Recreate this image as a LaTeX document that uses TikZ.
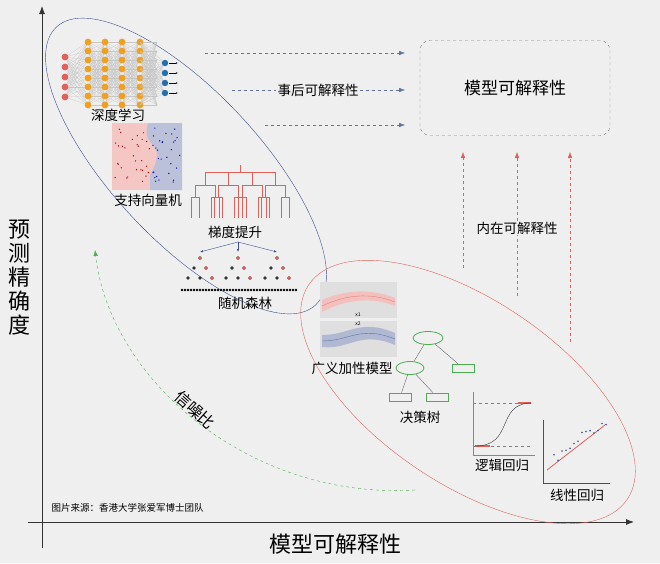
\documentclass[tikz,border=0pt]{standalone}
\usepackage{fontspec}
\setmainfont{Noto Sans CJK SC}
\usetikzlibrary{arrows.meta,positioning,shapes.geometric}
\definecolor{bg}{HTML}{EFEFEF}
\definecolor{nblue}{HTML}{3B4F8F}
\definecolor{nred}{HTML}{E0605A}
\definecolor{ngreen}{HTML}{4CB050}
\definecolor{norange}{HTML}{F0A020}
\definecolor{ndot}{HTML}{2070B0}
\tikzset{
  lab/.style={font=\fontsize{13.5}{14}\selectfont, inner sep=1pt},
  bigl/.style={font=\fontsize{22}{24}\selectfont},
  dsh/.style={dashed, -{Latex[length=6pt]}},
}
\begin{document}
\begin{tikzpicture}[x=1pt,y=-1pt]
    \def\bdraw{nblue}
    \def\rdraw{nred}
    \fill[bg] (0,0) rectangle (660,563);
    \useasboundingbox (0,0) rectangle (660,563);

    % axes
    \draw[-{Latex[length=8pt]}, thick, black!80] (42,548) -- (42,6);
    \draw[-{Latex[length=8pt]}, thick, black!80] (28,522) -- (634,522);
    \node[bigl, align=center] (ylab) at (20,278) {预\\测\\精\\确\\度};
    \node[bigl] (xlab) at (335,544) {模型可解释性};
    \node[font=\fontsize{9.5}{9.5}\selectfont, anchor=west] (src) at (48,508) {图片来源：香港大学张爱军博士团队};

    % ellipses
    \draw[\bdraw] (186,166) ellipse [x radius=190, y radius=74, rotate=-47];
    \draw[\rdraw] (468,392) ellipse [x radius=192, y radius=92, rotate=-34];

    % post-hoc arrows
    \node[lab] (post) at (318,90) {事后可解释性};
    \coordinate (p1) at (205,53);  \coordinate (q1) at (405,53);
    \coordinate (p2) at (232,90);  \coordinate (q2) at (405,90);
    \coordinate (p3) at (265,125); \coordinate (q3) at (405,125);
    \draw[dsh, \bdraw!80] (p1) -- (q1);
    \draw[dashed, \bdraw!80] (p2) -- (post.west);
    \draw[dsh, \bdraw!80] (post.east) -- (q2);
    \draw[dsh, \bdraw!80] (p3) -- (q3);

    % model interpretability box
    \node[draw, dashed, gray, rounded corners=10pt, minimum width=190pt, minimum height=95pt,
          font=\fontsize{17}{17}\selectfont, text=black] (mi) at (515,88) {模型可解释性};

    % intrinsic arrows
    \node[lab] (intr) at (517,228) {内在可解释性};
    \coordinate (r1) at (463,268); \coordinate (s1) at (463,152);
    \coordinate (r2) at (517,296); \coordinate (s2) at (517,152);
    \coordinate (r3) at (570,342); \coordinate (s3) at (570,152);
    \draw[dsh, \rdraw] (r1) -- (s1);
    \draw[dashed, \rdraw] (r2) -- (intr.south);
    \draw[dsh, \rdraw] (intr.north) -- (s2);
    \draw[dsh, \rdraw] (r3) -- (s3);

    % signal to noise
    \coordinate (g1) at (415,490); \coordinate (g2) at (95,250);
    \draw[dsh, ngreen] (g1) .. controls (250,500) and (110,380) .. (g2);
    \node[font=\fontsize{16}{16}\selectfont, rotate=-42] (snr) at (195,410) {信噪比};

    % deep learning
    \foreach \c in {88,105,122,140} {
        \foreach \k in {0,...,7} {
            \foreach \j in {0,...,7} \draw[gray!45, very thin] (\c,42+\k*9) -- (\c+17,42+\j*9);
        }
    }
    \foreach \k in {0,...,4} {
        \foreach \j in {0,...,7} \draw[gray!45, very thin] (65,57+\k*10) -- (88,42+\j*9);
        \fill[nred] (65,57+\k*10) circle (3.4);
    }
    \foreach \c in {88,105,122,140} {
        \foreach \k in {0,...,7} \fill[norange] (\c,42+\k*9) circle (3.4);
    }
    \foreach \k in {0,...,3} {
        \foreach \j in {0,...,7} \draw[gray!45, very thin] (140,42+\j*9) -- (165,63+\k*10);
        \fill[ndot] (165,63+\k*10) circle (3.2);
        \draw[-{Latex[length=2pt]}, thin] (169,63+\k*10) -- (178,63+\k*10);
    }
    \node[lab] (dl) at (118,115) {深度学习};

    % svm
    \fill[nred!35] (112,123) rectangle (182,190);
    \fill[nblue!35] (148,123) .. controls (140,150) and (170,140) .. (150,175) -- (150,190) -- (182,190) -- (182,123) -- cycle;
    \foreach \k in {1,...,30} {
        \fill[red!70!black] (115+rnd*35,128+rnd*55) circle (0.7);
        \fill[blue!70!black] (150+rnd*30,128+rnd*55) circle (0.7);
    }
    \node[lab] (svm) at (148,200) {支持向量机};

    % gradient boosting
    \draw[\rdraw, thick] (240,165) -- (240,172) (205,172) -- (275,172);
    \foreach \a in {205,228,252,275} {
        \draw[\rdraw, thick] (\a,172) -- (\a,185) (\a-10,185) -- (\a+10,185);
        \foreach \b in {-10,10} {
            \draw[\rdraw, thick] (\a+\b,185) -- (\a+\b,197) (\a+\b-4,197) -- (\a+\b+4,197)
                (\a+\b-4,197) -- (\a+\b-4,218) (\a+\b+4,197) -- (\a+\b+4,218);
        }
    }
    \node[lab] (gb) at (235,232) {梯度提升};

    % random forest
    \foreach \t in {200,238,277} {
        \draw[-{Latex[length=3pt]}, \bdraw] (238,242) -- (\t,252);
        \foreach \l in {0,1,2} {
            \foreach \m in {0,...,\l} \fill[black!80] (\t-\l*6+\m*12,258+\l*10) circle (1.8);
        }
        \fill[\rdraw] (\t,258) circle (1.8);
        \fill[\rdraw] (\t+6,268) circle (1.8);
        \fill[\rdraw] (\t+12,278) circle (1.8);
    }
    \foreach \k in {0,...,38} \fill[black] (182+\k*3,290) circle (1.3);
    \node[lab] (rf) at (245,303) {随机森林};

    % GAM
    \fill[gray!25] (320,282) rectangle (397,318);
    \fill[gray!25] (320,321) rectangle (397,357);
    \fill[nred!40] (322,300) .. controls (345,290) and (370,288) .. (395,298) -- (395,306) .. controls (370,296) and (345,300) .. (322,312) -- cycle;
    \draw[nred!80] (322,306) .. controls (345,295) and (370,292) .. (395,302);
    \fill[nblue!40] (322,335) .. controls (350,335) and (360,318) .. (395,333) -- (395,345) .. controls (360,330) and (350,350) .. (322,347) -- cycle;
    \draw[nblue!80] (322,341) .. controls (350,341) and (360,325) .. (395,339);
    \node[font=\tiny] (x1) at (358,315) {x1};
    \node[font=\tiny] (x2) at (358,324) {x2};
    \node[lab] (gam) at (352,368) {广义加性模型};

    % decision tree
    \node[draw=ngreen, thick, ellipse, minimum width=30pt, minimum height=13pt, inner sep=0] (d0) at (428,338) {};
    \node[draw=ngreen, thick, ellipse, minimum width=28pt, minimum height=13pt, inner sep=0] (d1) at (410,368) {};
    \node[draw=ngreen, thick, minimum width=22pt, minimum height=8pt, inner sep=0] (d2) at (463,368) {};
    \node[draw=ngreen, thick, minimum width=22pt, minimum height=8pt, inner sep=0] (d3) at (400,397) {};
    \node[draw=ngreen, thick, minimum width=22pt, minimum height=8pt, inner sep=0] (d4) at (437,397) {};
    \draw[black!60] (d0) -- (d1) (d0) -- (d2) (d1) -- (d3) (d1) -- (d4);
    \node[lab] (dt) at (420,417) {决策树};

    % logistic regression
    \draw[ngreen, thick] (473,392) -- (473,455) -- (535,455);
    \draw[dashed, gray] (473,403) -- (533,403) (473,446) -- (533,446);
    \draw[\rdraw, very thick] (475,446) -- (490,446) (518,403) -- (531,403);
    \draw[black!80] (475,446) .. controls (515,446) and (495,403) .. (532,403);
    \node[lab] (lr) at (502,465) {逻辑回归};

    % linear regression
    \draw[nblue, thick] (543,420) -- (543,483) -- (610,483);
    \draw[\rdraw, thick] (547,470) -- (605,425);
    \foreach \k in {1,...,14} \fill[nblue] (550+\k*4,463-\k*3+rnd*14-7) circle (0.9);
    \node[lab] (lin) at (577,495) {线性回归};
\end{tikzpicture}
\end{document}
